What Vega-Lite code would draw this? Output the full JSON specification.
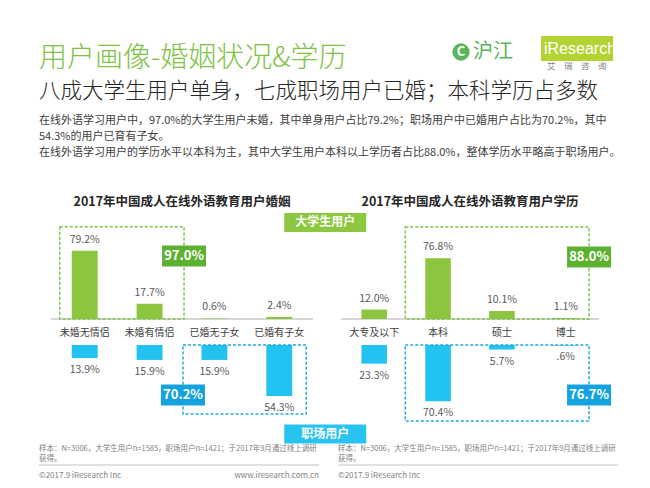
{
  "$schema": "https://vega.github.io/schema/vega-lite/v6.json",
  "width": 612,
  "height": 458,
  "padding": {"left": 38, "top": 30, "right": 0, "bottom": 0},
  "background": "white",
  "config": {"view": {"stroke": null}, "font": "Noto Sans CJK SC"},
  "title": {
    "text": "用户画像-婚姻状况&学历",
    "subtitle": "八成大学生用户单身，七成职场用户已婚；本科学历占多数",
    "anchor": "start",
    "frame": "group",
    "offset": -72,
    "font": "Noto Sans CJK SC",
    "fontSize": 28,
    "fontWeight": 300,
    "color": "#7dc243",
    "subtitleFont": "Noto Sans CJK SC",
    "subtitleFontSize": 21.5,
    "subtitleFontWeight": 300,
    "subtitleColor": "#262626",
    "subtitlePadding": 8
  },
  "datasets": {
    "marriage": [
      {"cat": "未婚无情侣", "group": "大学生用户", "value": 79.2, "label": "79.2%"},
      {"cat": "未婚有情侣", "group": "大学生用户", "value": 17.7, "label": "17.7%"},
      {"cat": "已婚无子女", "group": "大学生用户", "value": 0.6, "label": "0.6%"},
      {"cat": "已婚有子女", "group": "大学生用户", "value": 2.4, "label": "2.4%"},
      {"cat": "未婚无情侣", "group": "职场用户", "value": 13.9, "label": "13.9%"},
      {"cat": "未婚有情侣", "group": "职场用户", "value": 15.9, "label": "15.9%"},
      {"cat": "已婚无子女", "group": "职场用户", "value": 15.9, "label": "15.9%"},
      {"cat": "已婚有子女", "group": "职场用户", "value": 54.3, "label": "54.3%"}
    ],
    "education": [
      {"cat": "大专及以下", "group": "大学生用户", "value": 12.0, "label": "12.0%"},
      {"cat": "本科", "group": "大学生用户", "value": 76.8, "label": "76.8%"},
      {"cat": "硕士", "group": "大学生用户", "value": 10.1, "label": "10.1%"},
      {"cat": "博士", "group": "大学生用户", "value": 1.1, "label": "1.1%"},
      {"cat": "大专及以下", "group": "职场用户", "value": 23.3, "label": "23.3%"},
      {"cat": "本科", "group": "职场用户", "value": 70.4, "label": "70.4%"},
      {"cat": "硕士", "group": "职场用户", "value": 5.7, "label": "5.7%"},
      {"cat": "博士", "group": "职场用户", "value": 0.6, "label": ".6%"}
    ],
    "panels": [
      {"panel": "婚姻", "first": "未婚无情侣", "mid": "未婚有情侣", "last": "已婚有子女", "title": "2017年中国成人在线外语教育用户婚姻"},
      {"panel": "学历", "first": "大专及以下", "mid": "本科", "last": "博士", "title": "2017年中国成人在线外语教育用户学历"}
    ],
    "boxes": [
      {"panel": "婚姻", "group": "大学生用户", "from": "未婚无情侣", "to": "未婚有情侣", "share": "97.0%"},
      {"panel": "婚姻", "group": "职场用户", "from": "已婚无子女", "to": "已婚有子女", "share": "70.2%"},
      {"panel": "学历", "group": "大学生用户", "from": "本科", "to": "博士", "share": "88.0%"},
      {"panel": "学历", "group": "职场用户", "from": "本科", "to": "博士", "share": "76.7%"}
    ],
    "tags": [{"group": "大学生用户"}, {"group": "职场用户"}],
    "desc": [
      {"line": 1, "text": "在线外语学习用户中，97.0%的大学生用户未婚，其中单身用户占比79.2%；职场用户中已婚用户占比为70.2%，其中"},
      {"line": 2, "text": "54.3%的用户已育有子女。"},
      {"line": 3, "text": "在线外语学习用户的学历水平以本科为主，其中大学生用户本科以上学历者占比88.0%，整体学历水平略高于职场用户。"}
    ],
    "notes": [
      {"col": "A", "line": 1, "text": "样本：N=3006，大学生用户n=1585，职场用户n=1421；于2017年9月通过线上调研"},
      {"col": "A", "line": 2, "text": "获得。"},
      {"col": "B", "line": 1, "text": "样本：N=3006，大学生用户n=1585，职场用户n=1421；于2017年9月通过线上调研"},
      {"col": "B", "line": 2, "text": "获得。"}
    ],
    "credits": [
      {"col": "A", "kind": "copyright", "text": "©2017.9 iResearch Inc"},
      {"col": "A", "kind": "url", "text": "www.iresearch.com.cn"},
      {"col": "B", "kind": "copyright", "text": "©2017.9 iResearch Inc"}
    ],
    "logos": [
      {"brand": "沪江", "part": "mark", "text": "沪江"},
      {"brand": "iResearch", "part": "mark", "text": "iResearch"},
      {"brand": "iResearch", "part": "caption", "text": "艾　瑞　咨　询"}
    ]
  },
  "layer": [
    {
      "data": {"name": "logos"},
      "encoding": {
        "x": {"field": "brand", "type": "nominal", "scale": {"type": "point", "domain": ["沪江", "iResearch"], "range": [422, 502], "padding": 0}, "axis": null},
        "y": {"field": "part", "type": "nominal", "scale": {"type": "point", "domain": ["mark", "caption"], "range": [19, 36], "padding": 0}, "axis": null}
      },
      "layer": [
        {"transform": [{"filter": "datum.brand === '沪江'"}], "mark": {"type": "point", "shape": "circle", "filled": true, "size": 300, "color": "#5ab55e", "opacity": 1, "yOffset": 3}},
        {"transform": [{"filter": "datum.brand === '沪江'"}], "mark": {"type": "text", "text": "C", "fontSize": 13, "fontWeight": "bold", "color": "white", "dy": 3}},
        {"transform": [{"filter": "datum.brand === '沪江'"}], "mark": {"type": "text", "align": "left", "baseline": "middle", "dx": 12, "dy": 3, "fontSize": 20, "color": "#5ab55e"}, "encoding": {"text": {"field": "text"}}},
        {"transform": [{"filter": "datum.part === 'mark' && datum.brand === 'iResearch'"}], "mark": {"type": "rect", "color": "#b3d334", "xOffset": 0, "x2Offset": 72, "yOffset": -13, "y2Offset": 12}, "encoding": {"x2": {"field": "brand"}, "y2": {"field": "part"}}},
        {"transform": [{"filter": "datum.part === 'mark' && datum.brand === 'iResearch'"}], "mark": {"type": "text", "align": "left", "baseline": "middle", "dx": 3, "fontSize": 16, "color": "white", "font": "Liberation Sans"}, "encoding": {"text": {"field": "text"}}},
        {"transform": [{"filter": "datum.part === 'caption'"}], "mark": {"type": "text", "align": "left", "baseline": "middle", "dx": 6, "fontSize": 8.5, "color": "#808080"}, "encoding": {"text": {"field": "text"}}}
      ]
    },
    {
      "data": {"name": "desc"},
      "mark": {"type": "text", "align": "left", "baseline": "middle", "fontSize": 11, "color": "#404040"},
      "encoding": {
        "x": {"datum": "A", "type": "nominal", "bandPosition": 0, "scale": {"type": "band", "domain": ["A", "B"], "range": [0, 579], "paddingInner": 0.0635, "paddingOuter": 0}, "axis": null},
        "y": {"field": "line", "type": "quantitative", "scale": {"domain": [1, 3], "range": [91, 123], "nice": false, "zero": false}, "axis": null},
        "text": {"field": "text"}
      }
    },
    {
      "resolve": {"scale": {"y": "independent"}},
      "layer": [
        {
          "encoding": {
            "x": {"field": "cat", "type": "nominal", "scale": {"type": "band", "domain": ["未婚无情侣", "未婚有情侣", "已婚无子女", "已婚有子女"], "range": [12, 274], "paddingInner": 0.6, "paddingOuter": 0.32}, "axis": null},
            "y": {"type": "quantitative", "scale": {"domain": [0, 116], "range": [289, 189], "nice": false}, "axis": null}
          },
          "layer": [
            {
              "data": {"name": "panels"},
              "transform": [{"filter": "datum.panel === '婚姻'"}],
              "mark": {"type": "rule", "color": "#c8c8c8", "strokeWidth": 1.5, "xOffset": -20.75, "x2Offset": 20.75},
              "encoding": {
                "x": {"field": "first", "type": "nominal", "bandPosition": 0, "axis": null},
                "x2": {"field": "last", "bandPosition": 1},
                "y": {"datum": 0}
              }
            },
            {
              "data": {"name": "panels"},
              "transform": [{"filter": "datum.panel === '婚姻'"}],
              "mark": {"type": "text", "dx": 19.5, "baseline": "middle", "fontSize": 12.5, "fontWeight": "bold", "color": "#262626"},
              "encoding": {
                "x": {"field": "mid", "type": "nominal", "bandPosition": 1, "axis": null},
                "y": {"datum": 135.7},
                "text": {"field": "title"}
              }
            },
            {
              "data": {"name": "marriage"},
              "transform": [{"filter": "datum.group === '大学生用户'"}],
              "mark": {"type": "bar", "color": "#8cc63f"},
              "encoding": {"y": {"field": "value", "type": "quantitative"}}
            },
            {
              "data": {"name": "marriage"},
              "transform": [{"filter": "datum.group === '大学生用户'"}],
              "mark": {"type": "text", "dy": -11, "fontSize": 10.5, "color": "#595959"},
              "encoding": {"y": {"field": "value", "type": "quantitative"}, "text": {"field": "label"}}
            },
            {
              "data": {"name": "marriage"},
              "transform": [{"filter": "datum.group === '大学生用户'"}],
              "mark": {"type": "text", "dy": 14, "baseline": "middle", "fontSize": 10, "color": "#404040"},
              "encoding": {"y": {"datum": 0}, "text": {"field": "cat"}}
            },
            {
              "data": {"name": "boxes"},
              "transform": [{"filter": "datum.panel === '婚姻' && datum.group === '大学生用户'"}],
              "mark": {"type": "rect", "fillOpacity": 0, "stroke": "#7cc243", "strokeWidth": 1.5, "strokeDash": [3, 2], "xOffset": -12, "x2Offset": 21.5},
              "encoding": {
                "x": {"field": "from", "type": "nominal", "bandPosition": 0, "axis": null},
                "x2": {"field": "to", "bandPosition": 1},
                "y": {"datum": 107},
                "y2": {"datum": 0}
              }
            },
            {
              "data": {"name": "boxes"},
              "transform": [{"filter": "datum.panel === '婚姻' && datum.group === '大学生用户'"}],
              "mark": {"type": "rect", "color": "#5db131", "xOffset": -0.5, "x2Offset": 43.5, "yOffset": -10.5, "y2Offset": 10.5},
              "encoding": {
                "x": {"field": "to", "type": "nominal", "bandPosition": 1, "axis": null},
                "x2": {"field": "to", "bandPosition": 1},
                "y": {"datum": 73},
                "y2": {"datum": 73}
              }
            },
            {
              "data": {"name": "boxes"},
              "transform": [{"filter": "datum.panel === '婚姻' && datum.group === '大学生用户'"}],
              "mark": {"type": "text", "dx": 21.5, "fontSize": 13, "fontWeight": "bold", "color": "white"},
              "encoding": {
                "x": {"field": "to", "type": "nominal", "bandPosition": 1, "axis": null},
                "y": {"datum": 73},
                "text": {"field": "share"}
              }
            },
            {
              "data": {"name": "tags"},
              "transform": [{"filter": "datum.group === '大学生用户'"}],
              "mark": {"type": "rect", "color": "#8dc63f", "xOffset": -8, "x2Offset": 74, "yOffset": -9.5, "y2Offset": 9.5},
              "encoding": {
                "x": {"datum": "已婚有子女", "type": "nominal", "bandPosition": 1, "axis": null},
                "x2": {"datum": "已婚有子女", "bandPosition": 1},
                "y": {"datum": 112},
                "y2": {"datum": 112}
              }
            },
            {
              "data": {"name": "tags"},
              "transform": [{"filter": "datum.group === '大学生用户'"}],
              "mark": {"type": "text", "dx": 33, "fontSize": 12, "fontWeight": "bold", "color": "white"},
              "encoding": {
                "x": {"datum": "已婚有子女", "type": "nominal", "bandPosition": 1, "axis": null},
                "y": {"datum": 112},
                "text": {"field": "group"}
              }
            }
          ]
        },
        {
          "encoding": {
            "x": {"field": "cat", "type": "nominal", "scale": {"type": "band", "domain": ["未婚无情侣", "未婚有情侣", "已婚无子女", "已婚有子女"], "range": [12, 274], "paddingInner": 0.6, "paddingOuter": 0.32}, "axis": null},
            "y": {"type": "quantitative", "scale": {"domain": [0, 74.5], "range": [315, 385], "nice": false}, "axis": null}
          },
          "layer": [
            {
              "data": {"name": "marriage"},
              "transform": [{"filter": "datum.group === '职场用户'"}],
              "mark": {"type": "bar", "color": "#22c3f0"},
              "encoding": {"y": {"field": "value", "type": "quantitative"}}
            },
            {
              "data": {"name": "marriage"},
              "transform": [{"filter": "datum.group === '职场用户'"}],
              "mark": {"type": "text", "dy": 12, "fontSize": 10.5, "color": "#595959"},
              "encoding": {"y": {"field": "value", "type": "quantitative"}, "text": {"field": "label"}}
            },
            {
              "data": {"name": "boxes"},
              "transform": [{"filter": "datum.panel === '婚姻' && datum.group === '职场用户'"}],
              "mark": {"type": "rect", "fillOpacity": 0, "stroke": "#1ea8e0", "strokeWidth": 1.5, "strokeDash": [3, 2], "xOffset": -18.5, "x2Offset": 14},
              "encoding": {
                "x": {"field": "from", "type": "nominal", "bandPosition": 0, "axis": null},
                "x2": {"field": "to", "bandPosition": 1},
                "y": {"datum": 0},
                "y2": {"datum": 73.4}
              }
            },
            {
              "data": {"name": "boxes"},
              "transform": [{"filter": "datum.panel === '婚姻' && datum.group === '职场用户'"}],
              "mark": {"type": "rect", "color": "#14a3df", "xOffset": -40.5, "x2Offset": 3.5, "yOffset": -10.5, "y2Offset": 10.5},
              "encoding": {
                "x": {"field": "from", "type": "nominal", "bandPosition": 0, "axis": null},
                "x2": {"field": "from", "bandPosition": 0},
                "y": {"datum": 53.2},
                "y2": {"datum": 53.2}
              }
            },
            {
              "data": {"name": "boxes"},
              "transform": [{"filter": "datum.panel === '婚姻' && datum.group === '职场用户'"}],
              "mark": {"type": "text", "dx": -18.5, "fontSize": 13, "fontWeight": "bold", "color": "white"},
              "encoding": {
                "x": {"field": "from", "type": "nominal", "bandPosition": 0, "axis": null},
                "y": {"datum": 53.2},
                "text": {"field": "share"}
              }
            },
            {
              "data": {"name": "tags"},
              "transform": [{"filter": "datum.group === '职场用户'"}],
              "mark": {"type": "rect", "color": "#29c3f2", "xOffset": -8, "x2Offset": 74, "yOffset": -9.5, "y2Offset": 9.5},
              "encoding": {
                "x": {"datum": "已婚有子女", "type": "nominal", "bandPosition": 1, "axis": null},
                "x2": {"datum": "已婚有子女", "bandPosition": 1},
                "y": {"datum": 94.7},
                "y2": {"datum": 94.7}
              }
            },
            {
              "data": {"name": "tags"},
              "transform": [{"filter": "datum.group === '职场用户'"}],
              "mark": {"type": "text", "dx": 33, "fontSize": 12, "fontWeight": "bold", "color": "white"},
              "encoding": {
                "x": {"datum": "已婚有子女", "type": "nominal", "bandPosition": 1, "axis": null},
                "y": {"datum": 94.7},
                "text": {"field": "group"}
              }
            }
          ]
        }
      ]
    },
    {
      "resolve": {"scale": {"y": "independent"}},
      "layer": [
        {
          "encoding": {
            "x": {"field": "cat", "type": "nominal", "scale": {"type": "band", "domain": ["大专及以下", "本科", "硕士", "博士"], "range": [302, 560], "paddingInner": 0.6, "paddingOuter": 0.32}, "axis": null},
            "y": {"type": "quantitative", "scale": {"domain": [0, 126.6], "range": [289, 189], "nice": false}, "axis": null}
          },
          "layer": [
            {
              "data": {"name": "panels"},
              "transform": [{"filter": "datum.panel === '学历'"}],
              "mark": {"type": "rule", "color": "#c8c8c8", "strokeWidth": 1.5, "xOffset": -20.4, "x2Offset": 20.4},
              "encoding": {
                "x": {"field": "first", "type": "nominal", "bandPosition": 0, "axis": null},
                "x2": {"field": "last", "bandPosition": 1},
                "y": {"datum": 0}
              }
            },
            {
              "data": {"name": "panels"},
              "transform": [{"filter": "datum.panel === '学历'"}],
              "mark": {"type": "text", "dx": 19.2, "baseline": "middle", "fontSize": 12.5, "fontWeight": "bold", "color": "#262626"},
              "encoding": {
                "x": {"field": "mid", "type": "nominal", "bandPosition": 1, "axis": null},
                "y": {"datum": 148.1},
                "text": {"field": "title"}
              }
            },
            {
              "data": {"name": "education"},
              "transform": [{"filter": "datum.group === '大学生用户'"}],
              "mark": {"type": "bar", "color": "#8cc63f"},
              "encoding": {"y": {"field": "value", "type": "quantitative"}}
            },
            {
              "data": {"name": "education"},
              "transform": [{"filter": "datum.group === '大学生用户'"}],
              "mark": {"type": "text", "dy": -11, "fontSize": 10.5, "color": "#595959"},
              "encoding": {"y": {"field": "value", "type": "quantitative"}, "text": {"field": "label"}}
            },
            {
              "data": {"name": "education"},
              "transform": [{"filter": "datum.group === '大学生用户'"}],
              "mark": {"type": "text", "dy": 14, "baseline": "middle", "fontSize": 10, "color": "#404040"},
              "encoding": {"y": {"datum": 0}, "text": {"field": "cat"}}
            },
            {
              "data": {"name": "boxes"},
              "transform": [{"filter": "datum.panel === '学历' && datum.group === '大学生用户'"}],
              "mark": {"type": "rect", "fillOpacity": 0, "stroke": "#7cc243", "strokeWidth": 1.5, "strokeDash": [3, 2], "xOffset": -20, "x2Offset": 10.5},
              "encoding": {
                "x": {"field": "from", "type": "nominal", "bandPosition": 0, "axis": null},
                "x2": {"field": "to", "bandPosition": 1},
                "y": {"datum": 116.5},
                "y2": {"datum": 0}
              }
            },
            {
              "data": {"name": "boxes"},
              "transform": [{"filter": "datum.panel === '学历' && datum.group === '大学生用户'"}],
              "mark": {"type": "rect", "color": "#5db131", "xOffset": -11.5, "x2Offset": 32.5, "yOffset": -10.5, "y2Offset": 10.5},
              "encoding": {
                "x": {"field": "to", "type": "nominal", "bandPosition": 1, "axis": null},
                "x2": {"field": "to", "bandPosition": 1},
                "y": {"datum": 78.5},
                "y2": {"datum": 78.5}
              }
            },
            {
              "data": {"name": "boxes"},
              "transform": [{"filter": "datum.panel === '学历' && datum.group === '大学生用户'"}],
              "mark": {"type": "text", "dx": 10.5, "fontSize": 13, "fontWeight": "bold", "color": "white"},
              "encoding": {
                "x": {"field": "to", "type": "nominal", "bandPosition": 1, "axis": null},
                "y": {"datum": 78.5},
                "text": {"field": "share"}
              }
            }
          ]
        },
        {
          "encoding": {
            "x": {"field": "cat", "type": "nominal", "scale": {"type": "band", "domain": ["大专及以下", "本科", "硕士", "博士"], "range": [302, 560], "paddingInner": 0.6, "paddingOuter": 0.32}, "axis": null},
            "y": {"type": "quantitative", "scale": {"domain": [0, 87.5], "range": [315, 385], "nice": false}, "axis": null}
          },
          "layer": [
            {
              "data": {"name": "education"},
              "transform": [{"filter": "datum.group === '职场用户'"}],
              "mark": {"type": "bar", "color": "#22c3f0"},
              "encoding": {"y": {"field": "value", "type": "quantitative"}}
            },
            {
              "data": {"name": "education"},
              "transform": [{"filter": "datum.group === '职场用户'"}],
              "mark": {"type": "text", "dy": 12, "fontSize": 10.5, "color": "#595959"},
              "encoding": {"y": {"field": "value", "type": "quantitative"}, "text": {"field": "label"}}
            },
            {
              "data": {"name": "boxes"},
              "transform": [{"filter": "datum.panel === '学历' && datum.group === '职场用户'"}],
              "mark": {"type": "rect", "fillOpacity": 0, "stroke": "#1ea8e0", "strokeWidth": 1.5, "strokeDash": [3, 2], "xOffset": -20, "x2Offset": 10.5},
              "encoding": {
                "x": {"field": "from", "type": "nominal", "bandPosition": 0, "axis": null},
                "x2": {"field": "to", "bandPosition": 1},
                "y": {"datum": 0},
                "y2": {"datum": 95}
              }
            },
            {
              "data": {"name": "boxes"},
              "transform": [{"filter": "datum.panel === '学历' && datum.group === '职场用户'"}],
              "mark": {"type": "rect", "color": "#14a3df", "xOffset": -11.5, "x2Offset": 32.5, "yOffset": -10.5, "y2Offset": 10.5},
              "encoding": {
                "x": {"field": "to", "type": "nominal", "bandPosition": 1, "axis": null},
                "x2": {"field": "to", "bandPosition": 1},
                "y": {"datum": 62.5},
                "y2": {"datum": 62.5}
              }
            },
            {
              "data": {"name": "boxes"},
              "transform": [{"filter": "datum.panel === '学历' && datum.group === '职场用户'"}],
              "mark": {"type": "text", "dx": 10.5, "fontSize": 13, "fontWeight": "bold", "color": "white"},
              "encoding": {
                "x": {"field": "to", "type": "nominal", "bandPosition": 1, "axis": null},
                "y": {"datum": 62.5},
                "text": {"field": "share"}
              }
            }
          ]
        }
      ]
    },
    {
      "encoding": {
        "x": {"field": "col", "type": "nominal", "scale": {"type": "band", "domain": ["A", "B"], "range": [0, 579], "paddingInner": 0.0635, "paddingOuter": 0}, "axis": null},
        "y": {"type": "quantitative", "scale": {"domain": [1, 2], "range": [419, 429], "nice": false, "zero": false}, "axis": null}
      },
      "layer": [
        {
          "data": {"name": "notes"},
          "mark": {"type": "text", "align": "left", "baseline": "middle", "fontSize": 7.5, "color": "#7f7f7f"},
          "encoding": {"x": {"field": "col", "type": "nominal", "bandPosition": 0, "axis": null}, "y": {"field": "line", "type": "quantitative"}, "text": {"field": "text"}}
        },
        {
          "data": {"name": "credits"},
          "transform": [{"filter": "datum.kind === 'copyright'"}],
          "mark": {"type": "rule", "color": "#c0c0c0", "strokeWidth": 1},
          "encoding": {"x": {"field": "col", "type": "nominal", "bandPosition": 0, "axis": null}, "x2": {"field": "col", "bandPosition": 1}, "y": {"datum": 2.6}}
        },
        {
          "data": {"name": "credits"},
          "transform": [{"filter": "datum.kind === 'copyright'"}],
          "mark": {"type": "text", "align": "left", "baseline": "middle", "fontSize": 8, "color": "#7f7f7f"},
          "encoding": {"x": {"field": "col", "type": "nominal", "bandPosition": 0, "axis": null}, "y": {"datum": 3.7}, "text": {"field": "text"}}
        },
        {
          "data": {"name": "credits"},
          "transform": [{"filter": "datum.kind === 'url'"}],
          "mark": {"type": "text", "align": "right", "baseline": "middle", "fontSize": 8, "color": "#7f7f7f"},
          "encoding": {"x": {"field": "col", "type": "nominal", "bandPosition": 1, "axis": null}, "y": {"datum": 3.7}, "text": {"field": "text"}}
        }
      ]
    }
  ],
  "resolve": {"scale": {"x": "independent", "y": "independent"}, "axis": {"x": "independent", "y": "independent"}}
}
